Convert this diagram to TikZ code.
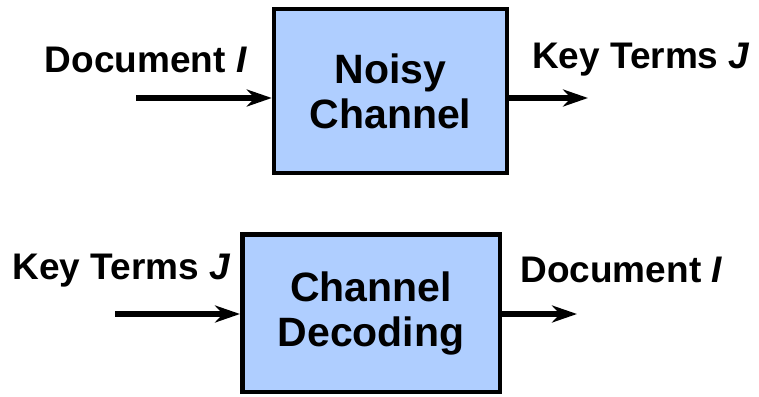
\documentclass[tikz,border=0pt]{standalone}
\usepackage{fontspec}
\setmainfont{Liberation Sans}
\usetikzlibrary{arrows.meta}
\definecolor{boxblue}{RGB}{175,206,255}
\begin{document}
\begin{tikzpicture}[x=1pt,y=-1pt,
  block/.style={draw=black,line width=4.5pt,fill=boxblue,align=center,
    font=\fontsize{41}{45}\selectfont\bfseries,inner sep=0pt},
  lbl/.style={anchor=base,inner sep=0pt,font=\fontsize{37}{40}\selectfont\bfseries},
  arr/.style={line width=5.5pt,-{Stealth[length=25pt,width=17pt,inset=8pt]}}]
\useasboundingbox (0,0) rectangle (759,396);
\node[block,minimum width=233pt,minimum height=164pt] (b1) at (390.5,91) {Noisy\\Channel};
\node[block,minimum width=257.5pt,minimum height=157.5pt] (b2) at (371,313) {Channel\\Decoding};
\node[lbl] (l1) at (146,72) {Document \textit{I}};
\node[lbl] (l2) at (641,68) {Key Terms \textit{J}};
\node[lbl] (l3) at (121.5,279) {Key Terms \textit{J}};
\node[lbl] (l4) at (621.5,282) {Document \textit{I}};
\coordinate (s1) at (136,98);
\coordinate (e2) at (588,98);
\coordinate (s3) at (115,314);
\coordinate (e4) at (577,314);
\draw[arr] (s1) -- (s1 -| b1.west);
\draw[arr] (e2 -| b1.east) -- (e2);
\draw[arr] (s3) -- (s3 -| b2.west);
\draw[arr] (e4 -| b2.east) -- (e4);
\end{tikzpicture}
\end{document}
